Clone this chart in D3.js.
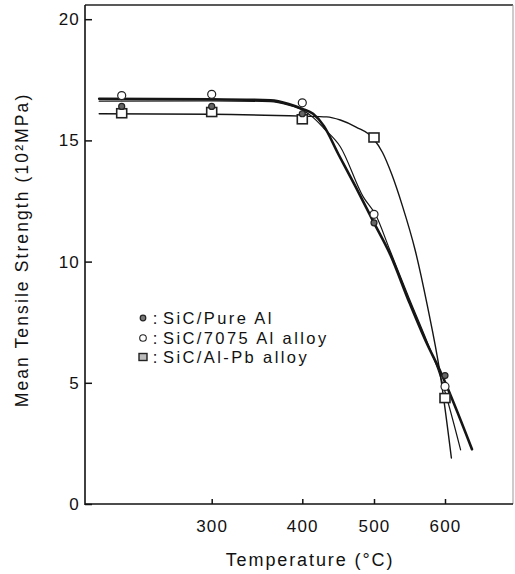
<!DOCTYPE html>
<html>
<head>
<meta charset="utf-8">
<script src="https://cdn.jsdelivr.net/npm/d3@7/dist/d3.min.js"></script>
<style>
  html, body { margin: 0; padding: 0; background: #fff; }
  svg { display: block; }
  text { font-family: "Liberation Sans", Arial, Helvetica, sans-serif; fill: #111; }
</style>
</head>
<body>
<svg id="chart" width="515" height="574"></svg>
<script>
(function () {
// ---- data ----
const temps = [200, 300, 400, 500, 600];            // test temperatures (°C)
const pureAl = [16.4, 16.4, 16.1, 11.6, 5.3];       // SiC/Pure Al (filled dots)
const al7075 = [16.85, 16.9, 16.55, 11.95, 4.85];   // SiC/7075 Al alloy (open circles)
const alPb = [16.1, 16.15, 15.85, 15.1, 4.35];      // SiC/Al-Pb alloy (open squares)

// fitted curves (temperature, strength)
const fitPureAlT = [175, 300, 365, 385, 400, 415, 430, 450, 475, 500, 522, 550, 574, 593, 638];
const fitPureAlV = [16.72, 16.7, 16.65, 16.5, 16.3, 16.1, 15.6, 14.45, 13.05, 11.6, 10.35, 8.3, 6.65, 5.5, 2.26];
const fit7075T = [175, 300, 365, 385, 400, 415, 430, 453, 485, 502, 522, 550, 574, 593, 622];
const fit7075V = [16.62, 16.63, 16.6, 16.45, 16.25, 15.95, 15.5, 14.74, 12.67, 11.95, 10.5, 8.45, 6.75, 5.3, 2.23];
const fitAlPbT = [175, 300, 400, 434, 453, 475, 499, 512, 525, 540, 558, 575, 593, 609];
const fitAlPbV = [16.1, 16.08, 16.0, 15.97, 15.84, 15.55, 15.08, 14.5, 13.6, 12.3, 10.47, 8.2, 5.4, 1.9];

const xTicks = [300, 400, 500, 600];
const yTicks = [0, 5, 10, 15, 20];
const legendLabels = ["SiC/Pure Al", "SiC/7075 Al alloy", "SiC/Al-Pb alloy"];

// ---- layout ----
const svg = d3.select("#chart");
const pL = 85, pR = 513, pT = 5, pB = 504;

// the temperature axis of the original is not evenly spaced
const x = d3.scaleLinear()
  .domain([200, 300, 400, 500, 600, 700])
  .range([121.7, 211.7, 302.3, 374, 445, 516]);
const y = d3.scaleLinear().domain([0, 20]).range([pB, 19.2]);

svg.append("rect").attr("width", 515).attr("height", 574).attr("fill", "#fff");

// frame
svg.append("line").attr("x1", pL).attr("x2", pR).attr("y1", pT).attr("y2", pT)
  .attr("stroke", "#222").attr("stroke-width", 1.3);
svg.append("line").attr("x1", pR).attr("x2", pR).attr("y1", pT).attr("y2", pB)
  .attr("stroke", "#999").attr("stroke-width", 1);
svg.append("line").attr("x1", pL).attr("x2", pL).attr("y1", pT).attr("y2", pB + 1)
  .attr("stroke", "#111").attr("stroke-width", 1.6);
svg.append("line").attr("x1", pL).attr("x2", pR).attr("y1", pB).attr("y2", pB)
  .attr("stroke", "#111").attr("stroke-width", 1.6);

// axes
const yAxis = d3.axisLeft(y).tickValues(yTicks).tickSizeInner(-7).tickSizeOuter(0).tickPadding(5);
const gy = svg.append("g").attr("transform", `translate(${pL},0)`).call(yAxis);
gy.select(".domain").remove();
gy.selectAll(".tick line").attr("stroke", "#111").attr("stroke-width", 1.5);
gy.selectAll(".tick text").attr("font-size", 17).attr("letter-spacing", 1.2)
  .attr("fill", "#111").attr("font-family", "Liberation Sans, Arial, sans-serif");

const xAxis = d3.axisBottom(x).tickValues(xTicks).tickSizeInner(-5).tickSizeOuter(0).tickPadding(16);
const gx = svg.append("g").attr("transform", `translate(0,${pB})`).call(xAxis);
gx.select(".domain").remove();
gx.selectAll(".tick line").attr("stroke", "#111").attr("stroke-width", 1.5);
gx.selectAll(".tick text").attr("font-size", 17).attr("letter-spacing", 1.2)
  .attr("fill", "#111").attr("font-family", "Liberation Sans, Arial, sans-serif");

// axis titles
svg.append("text").attr("x", 310).attr("y", 566).attr("text-anchor", "middle")
  .attr("font-size", 18).attr("letter-spacing", 1.9).text("Temperature (°C)");
svg.append("text").attr("transform", "translate(28,250) rotate(-90)").attr("text-anchor", "middle")
  .attr("font-size", 17.5).attr("letter-spacing", 2.1).text("Mean Tensile Strength (10²MPa)");

// curves
const line = d3.line().x(d => x(d[0])).y(d => y(d[1])).curve(d3.curveMonotoneX);
const fits = [
  { t: fitAlPbT, v: fitAlPbV, w: 1.4 },
  { t: fit7075T, v: fit7075V, w: 1.2 },
  { t: fitPureAlT, v: fitPureAlV, w: 2.6 }
];
fits.forEach(f => {
  svg.append("path").datum(f.t.map((t, i) => [t, f.v[i]]))
    .attr("d", line).attr("fill", "none").attr("stroke", "#151515")
    .attr("stroke-width", f.w).attr("stroke-linejoin", "round").attr("stroke-linecap", "round");
});

// markers
const gm = svg.append("g");
gm.selectAll("rect.pb").data(temps.map((t, i) => [t, alPb[i]])).join("rect")
  .attr("x", d => x(d[0]) - 5).attr("y", d => y(d[1]) - 5)
  .attr("width", 10).attr("height", 9)
  .attr("fill", "#fff").attr("stroke", "#222").attr("stroke-width", 1.6);
gm.selectAll("circle.c7075").data(temps.map((t, i) => [t, al7075[i]])).join("circle")
  .attr("cx", d => x(d[0])).attr("cy", d => y(d[1])).attr("r", 4)
  .attr("fill", "#fff").attr("stroke", "#222").attr("stroke-width", 1.2);
gm.selectAll("circle.pure").data(temps.map((t, i) => [t, pureAl[i]])).enter().append("circle")
  .attr("cx", d => x(d[0])).attr("cy", d => y(d[1])).attr("r", 3)
  .attr("fill", "#666").attr("stroke", "#222").attr("stroke-width", 1.2);

// legend
const legY = [318, 338, 357];
const lg = svg.append("g");
legendLabels.forEach((lab, i) => {
  const yy = legY[i];
  if (i === 0) {
    lg.append("circle").attr("cx", 143).attr("cy", yy).attr("r", 2.8)
      .attr("fill", "#777").attr("stroke", "#222").attr("stroke-width", 1.2);
  } else if (i === 1) {
    lg.append("circle").attr("cx", 143).attr("cy", yy).attr("r", 3.3)
      .attr("fill", "#fff").attr("stroke", "#222").attr("stroke-width", 1.1);
  } else {
    lg.append("rect").attr("x", 139).attr("y", yy - 3.5).attr("width", 8).attr("height", 7)
      .attr("fill", "#bbb").attr("stroke", "#222").attr("stroke-width", 1.4);
  }
  lg.append("text").attr("x", 155).attr("y", yy + 5.5).attr("text-anchor", "middle")
    .attr("font-size", 16.5).text(":");
  lg.append("text").attr("x", 163).attr("y", yy + 5.5)
    .attr("font-size", 16.5).attr("letter-spacing", 2.4).text(lab);
});
})();
</script>
</body>
</html>
